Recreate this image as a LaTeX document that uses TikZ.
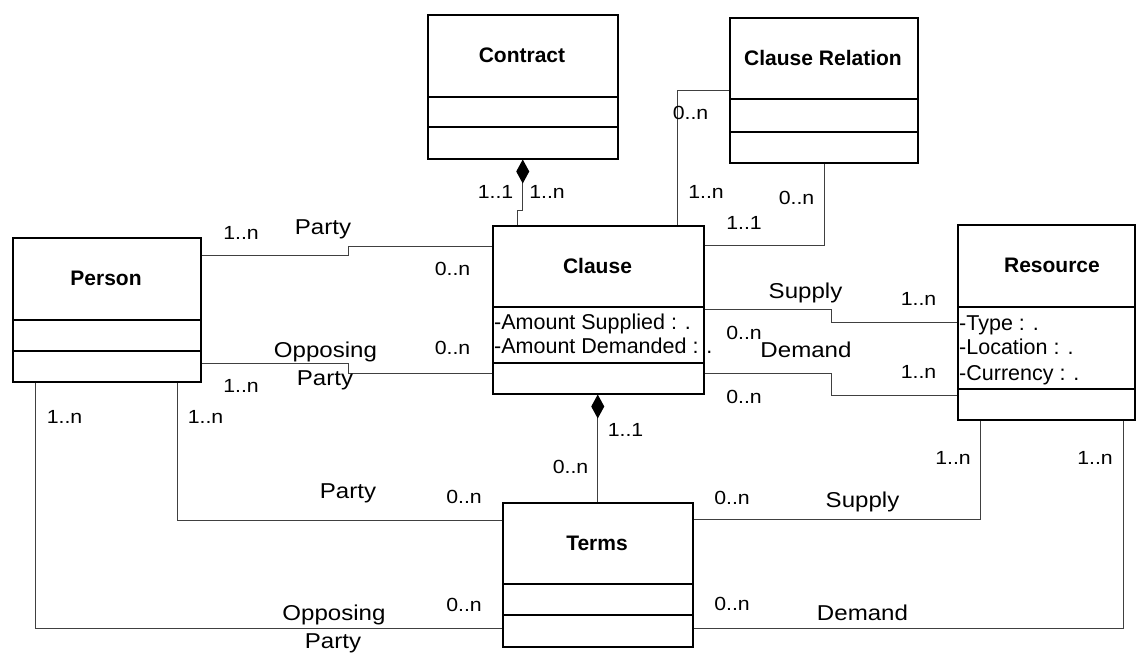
\documentclass[tikz,border=0pt]{standalone}
\usepackage{fontspec}
\setmainfont{Liberation Sans}
\newfontfamily\mfont[FakeStretch=1.12]{Liberation Sans}
\usetikzlibrary{calc,arrows.meta}
\tikzset{
  umlbox/.style={draw=black, line width=1.5pt, anchor=north west, inner sep=0pt},
  divider/.style={draw=black, line width=1.5pt},
  conn/.style={draw=black!75, line width=1pt},
  comp/.style={-{Diamond[length=24pt,width=13pt,black]}},
  mult/.style={font=\mfont\fontsize{19}{22}\selectfont, inner sep=0pt},
  role/.style={font=\mfont\fontsize{21.5}{24}\selectfont, inner sep=0pt},
  cname/.style={font=\bfseries\fontsize{21}{24}\selectfont, inner sep=0pt},
  attr/.style={font=\fontsize{21.5}{24}\selectfont, inner sep=0pt, anchor=base west},
}
\begin{document}
\begin{tikzpicture}[x=1pt,y=-1pt]
\path[use as bounding box] (0,0) rectangle (1136,653);

% class boxes
\node[umlbox, minimum width=190, minimum height=144] (contract) at (427,14) {};
\node[umlbox, minimum width=188, minimum height=145] (crel) at (729,17) {};
\node[umlbox, minimum width=211, minimum height=168] (clause) at (492,225) {};
\node[umlbox, minimum width=188, minimum height=144] (person) at (12,237) {};
\node[umlbox, minimum width=177, minimum height=195] (resource) at (957,224) {};
\node[umlbox, minimum width=190, minimum height=144] (terms) at (502,502) {};

% dividers
\draw[divider] ($(contract.north west)+(0,83)$) -- ($(contract.north east)+(0,83)$);
\draw[divider] ($(contract.north west)+(0,113)$) -- ($(contract.north east)+(0,113)$);
\draw[divider] ($(crel.north west)+(0,82)$) -- ($(crel.north east)+(0,82)$);
\draw[divider] ($(crel.north west)+(0,115)$) -- ($(crel.north east)+(0,115)$);
\draw[divider] ($(clause.north west)+(0,82)$) -- ($(clause.north east)+(0,82)$);
\draw[divider] ($(clause.north west)+(0,138)$) -- ($(clause.north east)+(0,138)$);
\draw[divider] ($(person.north west)+(0,83)$) -- ($(person.north east)+(0,83)$);
\draw[divider] ($(person.north west)+(0,114)$) -- ($(person.north east)+(0,114)$);
\draw[divider] ($(resource.north west)+(0,83)$) -- ($(resource.north east)+(0,83)$);
\draw[divider] ($(resource.north west)+(0,165)$) -- ($(resource.north east)+(0,165)$);
\draw[divider] ($(terms.north west)+(0,82)$) -- ($(terms.north east)+(0,82)$);
\draw[divider] ($(terms.north west)+(0,113)$) -- ($(terms.north east)+(0,113)$);

% class names
\node[cname] (contractname) at (522,55) {Contract};
\node[cname] (crelname) at (823,58) {Clause Relation};
\node[cname] (clausename) at (597.5,266) {Clause};
\node[cname] (personname) at (106,278) {Person};
\node[cname] (resourcename) at (1052,265) {Resource};
\node[cname] (termsname) at (597,543) {Terms};

% attributes
\node[attr] (attr1) at (494,329) {-Amount Supplied : .};
\node[attr] (attr2) at (494,353) {-Amount Demanded : .};
\node[attr] (attr3) at (959,330) {-Type : .};
\node[attr] (attr4) at (959,354) {-Location : .};
\node[attr] (attr5) at (959,380) {-Currency : .};

% connectors
\draw[conn,comp] ($(clause.north west)+(25,0)$) -- ++(0,-15) -| (contract.south);
\draw[conn] (crel.west) -| ($(clause.north west)+(185,0)$);
\draw[conn] ($(clause.north east)+(0,20)$) -| ($(crel.south west)+(95,0)$);
\draw[conn] ($(person.north east)+(0,18)$) -- ++(147,0) |- ($(clause.north west)+(0,21)$);
\draw[conn] ($(person.north east)+(0,126)$) -- ++(147,0) |- ($(clause.north west)+(0,148)$);
\draw[conn] ($(person.south west)+(165,0)$) |- ($(terms.north west)+(0,18)$);
\draw[conn] ($(person.south west)+(23,0)$) |- ($(terms.north west)+(0,126)$);
\draw[conn,comp] (terms.north) -- (terms.north |- clause.south);
\draw[conn] ($(clause.north east)+(0,84)$) -- ++(127,0) |- ($(resource.north west)+(0,98)$);
\draw[conn] ($(clause.north east)+(0,148)$) -- ++(127,0) |- ($(resource.north west)+(0,171)$);
\draw[conn] ($(terms.north east)+(0,17)$) -| ($(resource.south west)+(23,0)$);
\draw[conn] ($(terms.north east)+(0,126)$) -| ($(resource.south west)+(166,0)$);

% labels: contract-clause
\node[mult] (m1) at (495.5,192) {1..1};
\node[mult] (m2) at (547,192) {1..n};
% clause relation
\node[mult] (m3) at (690.5,113) {0..n};
\node[mult] (m4) at (706,192) {1..n};
\node[mult] (m5) at (744,223) {1..1};
\node[mult] (m6) at (796.5,198) {0..n};
% person-clause
\node[mult] (m7) at (241,233) {1..n};
\node[role] (r1) at (323,229) {Party};
\node[mult] (m8) at (452.5,269) {0..n};
\node[role] (r2) at (325.5,352) {Opposing};
\node[role] (r3) at (325,380) {Party};
\node[mult] (m9) at (241,386) {1..n};
\node[mult] (m10) at (452.5,348) {0..n};
% person-terms
\node[mult] (m11) at (64.5,417) {1..n};
\node[mult] (m12) at (205.5,417) {1..n};
\node[role] (r4) at (348,493) {Party};
\node[mult] (m13) at (464,497) {0..n};
\node[role] (r5) at (334,615) {Opposing};
\node[role] (r6) at (333,643) {Party};
\node[mult] (m14) at (464,605) {0..n};
% clause-terms
\node[mult] (m15) at (625.5,430) {1..1};
\node[mult] (m16) at (570.5,467) {0..n};
% clause-resource
\node[role] (r7) at (805.5,293) {Supply};
\node[mult] (m17) at (918.5,299) {1..n};
\node[mult] (m18) at (744,333) {0..n};
\node[role] (r8) at (806,350) {Demand};
\node[mult] (m19) at (918.5,372) {1..n};
\node[mult] (m20) at (744,397) {0..n};
% terms-resource
\node[mult] (m21) at (953,458) {1..n};
\node[mult] (m22) at (1095,458) {1..n};
\node[mult] (m23) at (732,498) {0..n};
\node[role] (r9) at (862.5,502) {Supply};
\node[mult] (m24) at (732,604) {0..n};
\node[role] (r10) at (862.5,613) {Demand};
\end{tikzpicture}
\end{document}
